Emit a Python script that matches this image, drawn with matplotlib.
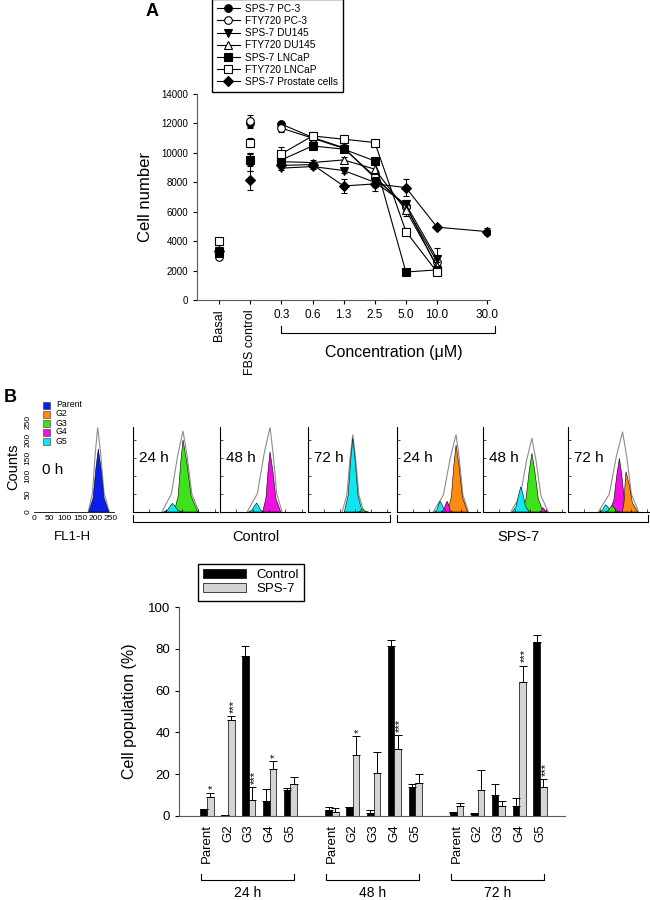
import numpy as np
import matplotlib.pyplot as plt
from matplotlib.lines import Line2D
from matplotlib.patches import Polygon
from matplotlib.transforms import blended_transform_factory

plt.rcParams['font.family'] = ['Liberation Sans', 'DejaVu Sans']

# ---------------- panel A data ----------------
conc_labels = ['0.3', '0.6', '1.3', '2.5', '5.0', '10.0', '30.0']
series_names = ['SPS-7 PC-3', 'FTY720 PC-3', 'SPS-7 DU145', 'FTY720 DU145',
                'SPS-7 LNCaP', 'FTY720 LNCaP', 'SPS-7 Prostate cells']
series_markers = ['o', 'o', 'v', '^', 's', 's', 'D']
series_filled = [True, False, True, False, True, False, True]

basal_vals = [3100, 2950, 3300, 3200, 3250, 4000, 3300]
basal_err = [150, 150, 150, 150, 150, 200, 150]
fbs_vals = [12000, 12150, 9400, 9600, 9500, 10700, 8150]
fbs_err = [300, 400, 600, 400, 400, 300, 650]

sps_pc3 = [11950, 11050, 10350, 8300, 6400, 2200]
fty_pc3 = [11680, 11000, 10300, 8400, 6300, 2600]
sps_du145 = [8960, 9070, 8800, 8000, 6500, 2800]
fty_du145 = [9400, 9340, 9520, 8890, 6100, 2300]
sps_lncap = [9520, 10470, 10250, 9450, 1900, 2050]
fty_lncap = [9930, 11150, 10930, 10700, 4650, 1900]
sps_prostate = [9150, 9200, 7750, 7890, 7640, 4950, 4650]

sps_pc3_err = [150, 150, 200, 200, 200, 200]
fty_pc3_err = [250, 200, 200, 200, 250, 300]
sps_du145_err = [150, 150, 200, 300, 300, 700]
fty_du145_err = [150, 150, 200, 300, 400, 300]
sps_lncap_err = [150, 150, 150, 150, 100, 150]
fty_lncap_err = [450, 250, 250, 200, 250, 200]
sps_prostate_err = [200, 200, 500, 500, 600, 150, 250]

# ---------------- panel B histogram data ----------------
gen_names = ['Parent', 'G2', 'G3', 'G4', 'G5']
gen_colors = ['#0a1ee8', '#ff8a10', '#3ee21a', '#f010e0', '#10e6f0']
# peaks: (generation, left foot, apex, right foot, height)
peaks_0h = [('Parent', 178, 209, 243, 175)]
peaks_c24 = [('G3', 126, 153, 198, 200), ('G5', 93, 121, 149, 24)]
peaks_c48 = [('G4', 130, 153, 186, 167), ('G5', 87, 112, 134, 25)]
peaks_c72 = [('G5', 115, 142, 172, 205), ('G3', 160, 172, 192, 8)]
peaks_s24 = [('G2', 158, 185, 221, 186), ('G5', 117, 135, 158, 30), ('G4', 138, 157, 173, 30)]
peaks_s48 = [('G3', 121, 155, 192, 163), ('G5', 93, 120, 147, 70), ('G4', 180, 190, 205, 12)]
peaks_s72 = [('G4', 131, 163, 192, 149), ('G2', 172, 184, 221, 112),
             ('G5', 99, 120, 145, 20), ('G3', 118, 140, 162, 18)]
# outer envelope: (left foot, apex, right foot, height)
env_0h = (176, 207, 245, 235)
env_c24 = (88, 153, 202, 225)
env_c48 = (83, 153, 190, 235)
env_c72 = (108, 142, 177, 215)
env_s24 = (113, 185, 224, 215)
env_s48 = (88, 155, 207, 205)
env_s72 = (96, 173, 224, 223)

# ---------------- panel B bar data ----------------
bar_groups = ['Parent', 'G2', 'G3', 'G4', 'G5']
timepoints = ['24 h', '48 h', '72 h']
ctrl_vals = [3.5, 0.5, 76.5, 7.3, 12.5, 2.9, 4.2, 1.6, 81.2, 14.0, 1.6, 0.8, 10.0, 5.0, 83.1]
ctrl_err = [0, 0, 4.8, 5.5, 1.1, 1.3, 0, 1.3, 2.8, 1.3, 0.3, 0.5, 5.3, 3.5, 3.3]
sps_vals = [9.0, 45.7, 7.7, 22.4, 15.3, 2.1, 29.3, 20.5, 32.0, 16.0, 4.8, 12.5, 4.8, 64.0, 14.0]
sps_err = [2.2, 2.3, 6.1, 4.0, 3.3, 1.6, 9.1, 10.0, 6.8, 4.1, 1.6, 9.5, 2.4, 8.0, 3.6]
sps_sig = ['*', '***', '***', '*', '', '', '*', '', '***', '', '', '', '', '***', '***']

W, H = 650, 900
def box(l, t, r, b):
    return [l / W, 1 - b / H, (r - l) / W, (b - t) / H]

fig = plt.figure(figsize=(6.5, 9), dpi=100)

# ================= Panel A =================
axA = fig.add_axes(box(197, 94, 490, 300))
x_conc = [2, 3, 4, 5, 6, 7]
x_all = x_conc + [8.6]
conc_series = [sps_pc3, fty_pc3, sps_du145, fty_du145, sps_lncap, fty_lncap, sps_prostate]
conc_errs = [sps_pc3_err, fty_pc3_err, sps_du145_err, fty_du145_err, sps_lncap_err,
             fty_lncap_err, sps_prostate_err]
handles = []
for i in range(len(series_names)):
    mfc = 'k' if series_filled[i] else 'white'
    ms = 5.5 if series_markers[i] != 'D' else 5
    ys = conc_series[i]
    xs = x_all[:len(ys)]
    kw = dict(marker=series_markers[i], mfc=mfc, mec='k', ms=ms, color='k',
              ecolor='k', elinewidth=0.7, capsize=2.2, capthick=0.7, mew=0.8)
    axA.errorbar(xs, ys, yerr=conc_errs[i], lw=0.8, zorder=3 + i, **kw)
    axA.errorbar([0, 1], [basal_vals[i], fbs_vals[i]], yerr=[basal_err[i], fbs_err[i]],
                 ls='none', zorder=3 + i, **kw)
    handles.append(Line2D([], [], color='k', lw=0.8, marker=series_markers[i], mfc=mfc,
                          mec='k', ms=ms, mew=0.8))

axA.set_xlim(-0.71, 8.7)
axA.set_ylim(0, 14000)
axA.set_yticks(np.arange(0, 14001, 2000))
axA.tick_params(axis='y', labelsize=7, length=3, width=0.8)
axA.tick_params(axis='x', labelsize=8.5, length=3, width=0.8)
axA.set_xticks([0, 1] + x_all)
axA.set_xticklabels(['Basal', 'FBS control'] + conc_labels)
for lab in axA.get_xticklabels()[:2]:
    lab.set_rotation(90)
    lab.set_fontsize(9)
for s in ['top', 'right']:
    axA.spines[s].set_visible(False)
for s in ['left', 'bottom']:
    axA.spines[s].set_color('0.35')
axA.set_ylabel('Cell number', fontsize=12, labelpad=6)

fig.legend(handles, series_names, loc='upper left', bbox_to_anchor=(212 / W, 1.001),
           fontsize=7.3, frameon=True, fancybox=False, edgecolor='k', framealpha=1,
           handlelength=2.3, labelspacing=0.22, borderpad=0.45, handletextpad=0.5,
           borderaxespad=0)

trA = blended_transform_factory(axA.transData, fig.transFigure)
y_br = 1 - 333 / H
y_up = 1 - 326 / H
fig.add_artist(Line2D([2.0, 2.0, 8.86, 8.86], [y_up, y_br, y_br, y_up], transform=trA,
                      color='k', lw=0.8))
fig.text(394 / W, 1 - 353 / H, 'Concentration (\u03bcM)', fontsize=11.5, ha='center', va='center')
fig.text(152 / W, 1 - 12 / H, 'A', fontsize=13, fontweight='bold', ha='center', va='center')

# ================= Panel B histograms =================
fig.text(10 / W, 1 - 397 / H, 'B', fontsize=13, fontweight='bold', ha='center', va='center')

def bell(l, c, r, h):
    # rounded peak outline from feet/apex
    return [(l, 0), (l + 0.45 * (c - l), 0.22 * h), (l + 0.75 * (c - l), 0.7 * h), (c, h),
            (r - 0.75 * (r - c), 0.7 * h), (r - 0.45 * (r - c), 0.22 * h), (r, 0)]

def draw_hist(ax, peaks, env):
    ax.add_patch(Polygon(bell(*env), closed=False, fill=False, edgecolor='0.55', lw=0.8))
    for g, pl, pc, pr, ph in peaks:
        col = gen_colors[gen_names.index(g)]
        ax.add_patch(Polygon(bell(pl, pc, pr, ph), closed=True, facecolor=col,
                             edgecolor='k', lw=0.4))

ax0 = fig.add_axes(box(34, 422, 114, 512))
draw_hist(ax0, peaks_0h, env_0h)
ax0.set_xlim(0, 260)
ax0.set_ylim(0, 250)
ax0.set_xticks([0, 50, 100, 150, 200, 250])
ax0.set_yticks([0, 50, 100, 150, 200, 250])
ax0.tick_params(labelsize=6, length=0, pad=2)
for lab in ax0.get_yticklabels():
    lab.set_rotation(90)
    lab.set_va('center')
for s in ['top', 'right', 'left']:
    ax0.spines[s].set_visible(False)
ax0.spines['bottom'].set_linewidth(0.6)
ax0.set_ylabel('Counts', fontsize=10.5, labelpad=3)
ax0.text(0.1, 0.47, '0 h', transform=ax0.transAxes, fontsize=11, va='center')
fig.text(72 / W, 1 - 537 / H, 'FL1-H', fontsize=9.5, ha='center', va='center')

hist_boxes = [(133, 218), (220, 305), (308, 390), (397, 480), (483, 565), (568, 650)]
hist_peaks = [peaks_c24, peaks_c48, peaks_c72, peaks_s24, peaks_s48, peaks_s72]
hist_envs = [env_c24, env_c48, env_c72, env_s24, env_s48, env_s72]
hist_labels = ['24 h', '48 h', '72 h', '24 h', '48 h', '72 h']
for (l, r), pk, ev, tl in zip(hist_boxes, hist_peaks, hist_envs, hist_labels):
    ax = fig.add_axes(box(l, 427, r, 512))
    draw_hist(ax, pk, ev)
    ax.set_xlim(0, 260)
    ax.set_ylim(0, 236)
    ax.set_xticks([0, 50, 100, 150, 200, 250])
    ax.set_yticks([0, 50, 100, 150, 200])
    ax.tick_params(labelbottom=False, labelleft=False, length=2, width=0.5, direction='in')
    for s in ['top', 'right']:
        ax.spines[s].set_visible(False)
    for s in ['left', 'bottom']:
        ax.spines[s].set_linewidth(0.8)
    ax.text(0.07, 0.64, tl, transform=ax.transAxes, fontsize=11, va='center')

# histogram legend
for i, g in enumerate(gen_names):
    yy = 1 - (405 + i * 9) / H
    fig.add_artist(plt.Rectangle((43 / W, yy - 3.5 / H), 7 / W, 7 / H, transform=fig.transFigure,
                                 facecolor=gen_colors[i], edgecolor='0.2', lw=0.4))
    fig.text(56 / W, yy, g, fontsize=6.3, va='center')

for x0, x1, lab, xc in [(133, 390, 'Control', 256), (397, 648, 'SPS-7', 518)]:
    fig.add_artist(Line2D([x0 / W, x0 / W, x1 / W, x1 / W],
                          [1 - 515 / H, 1 - 522 / H, 1 - 522 / H, 1 - 515 / H],
                          transform=fig.transFigure, color='k', lw=0.8))
    fig.text(xc / W, 1 - 537 / H, lab, fontsize=10.5, ha='center', va='center')

# ================= Panel B bars =================
axB = fig.add_axes(box(179, 607, 565, 816))
pos = []
for t in range(len(timepoints)):
    pos += [t * 6 + k for k in range(len(bar_groups))]
pos = np.array(pos, dtype=float)
bw = 0.32
zeros = np.zeros(len(pos))
axB.bar(pos - bw / 2, ctrl_vals, width=bw, color='k', edgecolor='k', lw=0.5,
        yerr=[zeros, ctrl_err], error_kw=dict(ecolor='k', elinewidth=0.7, capsize=3, capthick=0.7),
        label='Control')
axB.bar(pos + bw / 2, sps_vals, width=bw, color='#d4d4d4', edgecolor='k', lw=0.5,
        yerr=[zeros, sps_err], error_kw=dict(ecolor='k', elinewidth=0.7, capsize=3, capthick=0.7),
        label='SPS-7')
for p, v, e, s in zip(pos, sps_vals, sps_err, sps_sig):
    if s:
        axB.text(p + bw / 2 + 0.12, v + e + 1.5, s, rotation=90, ha='center', va='bottom',
                 fontsize=8)

axB.set_xlim(-1.35, 17.2)
axB.set_ylim(0, 100)
axB.set_yticks(np.arange(0, 101, 20))
axB.set_xticks(pos)
axB.set_xticklabels(bar_groups * len(timepoints), rotation=90, fontsize=9.5)
axB.tick_params(axis='x', length=0, pad=6)
axB.tick_params(axis='y', labelsize=9.5, length=3, width=0.8)
for s in ['top', 'right']:
    axB.spines[s].set_visible(False)
for s in ['left', 'bottom']:
    axB.spines[s].set_color('0.35')
axB.set_ylabel('Cell population (%)', fontsize=11.5, labelpad=8)
axB.legend(loc='upper left', bbox_to_anchor=(198 / W, 1 - 564 / H), bbox_transform=fig.transFigure,
           fontsize=9.5, frameon=True, fancybox=False, edgecolor='k', framealpha=1,
           handlelength=3.2, handleheight=0.6, labelspacing=0.15, borderpad=0.4,
           borderaxespad=0)

trB = blended_transform_factory(axB.transData, fig.transFigure)
for t, lab in enumerate(timepoints):
    x0 = t * 6 - 0.29
    x1 = t * 6 + 4.18
    fig.add_artist(Line2D([x0, x0, x1, x1], [1 - 874 / H, 1 - 880 / H, 1 - 880 / H, 1 - 874 / H],
                          transform=trB, color='k', lw=0.8))
    fig.text((x0 + x1) / 2, 1 - 893 / H, lab, transform=trB, fontsize=10, ha='center', va='center')

fig.savefig('out.png', dpi=100)
